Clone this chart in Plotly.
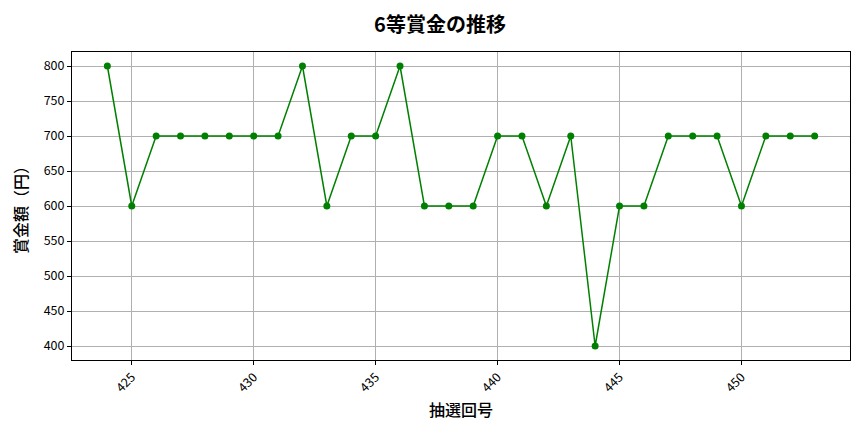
import plotly.graph_objects as go

draw_no = list(range(424, 454))
prize = [800, 600, 700, 700, 700, 700, 700, 700, 800, 600,
         700, 700, 800, 600, 600, 600, 700, 700, 600, 700,
         400, 600, 600, 700, 700, 700, 600, 700, 700, 700]

x_ticks = [425, 430, 435, 440, 445, 450]
y_ticks = [400, 450, 500, 550, 600, 650, 700, 750, 800]

font = "Noto Sans CJK JP"

fig = go.Figure()
fig.add_trace(go.Scatter(x=draw_no, y=prize, mode='lines+markers',
                         line=dict(color='green', width=1.5),
                         marker=dict(color='green', size=7)))

# page has ~8px body margin, so margins are shifted to compensate
fig.update_layout(
    width=864, height=432,
    margin=dict(l=61, r=22, t=44, b=80),
    paper_bgcolor='white', plot_bgcolor='white',
    showlegend=False,
    font=dict(family=font, color='black', size=12.5),
    title=dict(text='6等賞金の推移', x=0.5, xanchor='center', y=0.96, yanchor='middle',
               font=dict(family=font, size=20, color='black', weight='bold')),
)
fig.update_xaxes(range=[422.55, 454.45], tickvals=x_ticks, tickangle=-45,
                 showgrid=True, gridcolor='#b0b0b0', gridwidth=0.8,
                 showline=True, linecolor='black', linewidth=1, mirror=True,
                 ticks='outside', ticklen=4, tickcolor='black', zeroline=False,
                 title=dict(text='抽選回号', font=dict(size=16, weight=500), standoff=10))
fig.update_yaxes(range=[380, 820], tickvals=y_ticks,
                 showgrid=True, gridcolor='#b0b0b0', gridwidth=0.8,
                 showline=True, linecolor='black', linewidth=1, mirror=True,
                 ticks='outside', ticklen=4, tickcolor='black', zeroline=False,
                 title=dict(text='賞金額（円）', font=dict(size=16, weight=500), standoff=12))

fig.write_html("out.html")
